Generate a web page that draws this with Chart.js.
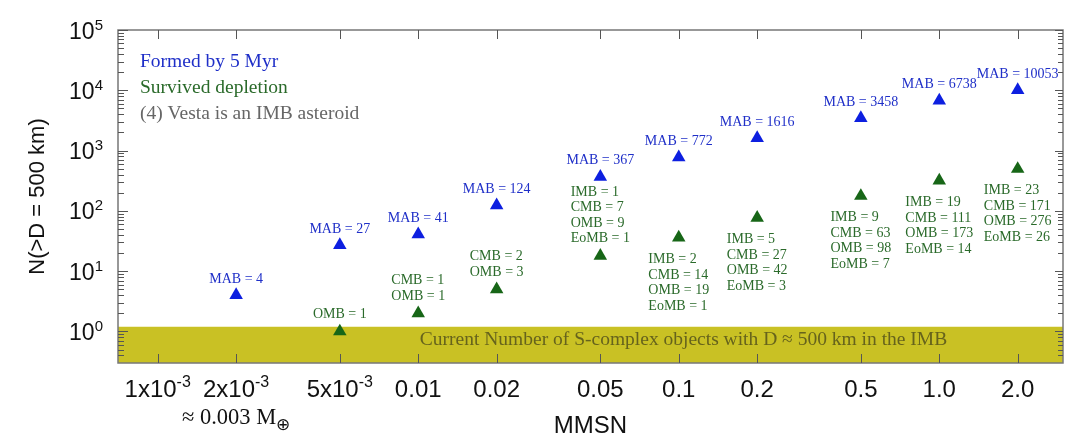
<!DOCTYPE html>
<html><head><meta charset="utf-8">
<script src="https://cdn.jsdelivr.net/npm/chart.js@4.4.1/dist/chart.umd.min.js"></script>
<style>html,body{margin:0;padding:0;background:#fff}#wrap{width:1090px;height:444px}</style>
</head><body><div id="wrap"><canvas id="c" width="1090" height="444"></canvas></div>
<script>
// ---- data ----
const mmsn = [0.002, 0.005, 0.01, 0.02, 0.05, 0.1, 0.2, 0.5, 1.0, 2.0];
const formedMAB = [4, 27, 41, 124, 367, 772, 1616, 3458, 6738, 10053];
const survivedTotal = [null, 1, 2, 5, 18, 36, 77, 177, 317, 496];
const survivedIMB = [null, null, null, null, 1, 2, 5, 9, 19, 23];
const survivedCMB = [null, null, 1, 2, 7, 14, 27, 63, 111, 171];
const survivedOMB = [null, 1, 1, 3, 9, 19, 42, 98, 173, 276];
const survivedEoMB = [null, null, null, null, 1, 1, 3, 7, 14, 26];
const currentIMB = 1.2;
const xTickValues = [0.001, 0.002, 0.005, 0.01, 0.02, 0.05, 0.1, 0.2, 0.5, 1.0, 2.0];
const xTickLabels = ['1x10^-3', '2x10^-3', '5x10^-3', '0.01', '0.02', '0.05', '0.1', '0.2', '0.5', '1.0', '2.0'];
const yTickValues = [1, 10, 100, 1000, 10000, 100000];
const yTickLabels = ['10^0', '10^1', '10^2', '10^3', '10^4', '10^5'];
const xRange = [7.04e-4, 2.985];
const yRange = [0.306, 1e5];

const SANS = '"Liberation Sans", Arial, sans-serif';
const SERIF = '"Liberation Serif", "Times New Roman", serif';
const BLUE = '#0d1fe0', BLUE_TXT = '#1f2fc8';
const GREEN = '#176617', GREEN_TXT = '#2a6a2a';

function drawSup(ctx, label, x, y, baseFont, supFont, align, raise) {
  const parts = label.split('^');
  const base = parts[0], sup = parts[1];
  ctx.font = baseFont; const bw = ctx.measureText(base).width;
  let sw = 0;
  if (sup) { ctx.font = supFont; sw = ctx.measureText(sup).width; }
  const total = bw + sw;
  const x0 = align === 'center' ? x - total / 2 : align === 'right' ? x - total : x;
  ctx.textAlign = 'left'; ctx.textBaseline = 'alphabetic';
  ctx.font = baseFont; ctx.fillText(base, x0, y);
  if (sup) { ctx.font = supFont; ctx.fillText(sup, x0 + bw, y - raise); }
}

const decor = {
  id: 'decor',
  beforeDatasetDraw(chart, args) {
    // band caption drawn just after the band (dataset 2) so markers stay on top
    if (args.index !== 1) return;
    const ctx = chart.ctx, a = chart.chartArea, ys = chart.scales.y;
    ctx.save();
    ctx.fillStyle = '#66631c';
    ctx.font = '19.5px ' + SERIF;
    ctx.textAlign = 'center'; ctx.textBaseline = 'alphabetic';
    ctx.fillText('Current Number of S-complex objects with D \u2248 500 km in the IMB', a.left + 565.5, ys.getPixelForValue(1) + 14);
    ctx.restore();
  },
  afterDatasetsDraw(chart) {
    const ctx = chart.ctx, a = chart.chartArea;
    const xs = chart.scales.x, ys = chart.scales.y;
    ctx.save();
    // frame
    ctx.strokeStyle = '#777'; ctx.lineWidth = 1.5;
    ctx.strokeRect(a.left, a.top, a.right - a.left, a.bottom - a.top);
    // ticks
    ctx.strokeStyle = '#555'; ctx.lineWidth = 1;
    ctx.beginPath();
    xTickValues.forEach(v => {
      const px = Math.round(xs.getPixelForValue(v)) + 0.5;
      ctx.moveTo(px, a.bottom); ctx.lineTo(px, a.bottom - 9);
      ctx.moveTo(px, a.top); ctx.lineTo(px, a.top + 9);
    });
    for (let e = -1; e <= 5; e++) {
      for (let m = 1; m <= 9; m++) {
        const v = m * Math.pow(10, e);
        if (v < yRange[0] || v > yRange[1]) continue;
        const py = Math.round(ys.getPixelForValue(v)) + 0.5;
        ctx.moveTo(a.left, py); ctx.lineTo(a.left + (m === 1 ? 10 : 6), py);
        ctx.moveTo(a.right, py); ctx.lineTo(a.right - (m === 1 ? 8 : 5), py);
      }
    }
    ctx.stroke();

    // tick labels
    ctx.fillStyle = '#111';
    yTickValues.forEach((v, i) => {
      const py = ys.getPixelForValue(v);
      drawSup(ctx, yTickLabels[i], 103, py + 8.5, '23px ' + SANS, '15px ' + SANS, 'right', 9);
    });
    xTickValues.forEach((v, i) => {
      const px = xs.getPixelForValue(v);
      drawSup(ctx, xTickLabels[i], px, 396.5, '24px ' + SANS, '16px ' + SANS, 'center', 10);
    });
    // secondary label under 2x10^-3
    {
      const px = xs.getPixelForValue(0.002);
      ctx.font = '22.5px ' + SERIF;
      const t1 = '\u2248 0.003 M';
      const w1 = ctx.measureText(t1).width;
      ctx.font = '17px ' + SERIF;
      const w2 = ctx.measureText('\u2295').width;
      const x0 = px - (w1 + w2) / 2;
      ctx.textAlign = 'left'; ctx.textBaseline = 'alphabetic';
      ctx.font = '22.5px ' + SERIF; ctx.fillText(t1, x0, 423.5);
      ctx.font = '17px ' + SERIF; ctx.fillText('\u2295', x0 + w1, 430);
    }
    // axis titles
    ctx.font = '24px ' + SANS; ctx.textAlign = 'center'; ctx.textBaseline = 'alphabetic';
    ctx.fillText('MMSN', (a.left + a.right) / 2, 433);
    ctx.save();
    ctx.translate(37.5, (a.top + a.bottom) / 2);
    ctx.rotate(-Math.PI / 2);
    ctx.font = '22px ' + SANS; ctx.textBaseline = 'middle';
    ctx.fillText('N(>D = 500 km)', 0, 0);
    ctx.restore();

    // legend-like notes
    ctx.textAlign = 'left'; ctx.textBaseline = 'alphabetic';
    ctx.font = '19.5px ' + SERIF;
    ctx.fillStyle = BLUE_TXT; ctx.fillText('Formed by 5 Myr', 140, 66.5);
    ctx.fillStyle = GREEN_TXT; ctx.fillText('Survived depletion', 140, 92.5);
    ctx.fillStyle = '#666'; ctx.fillText('(4) Vesta is an IMB asteroid', 140, 118.5);

    // point labels
    ctx.font = '14px ' + SERIF;
    const mBlue = chart.getDatasetMeta(0), mGreen = chart.getDatasetMeta(1);
    ctx.fillStyle = BLUE_TXT; ctx.textAlign = 'center';
    formedMAB.forEach((v, i) => {
      const el = mBlue.data[i];
      ctx.fillText('MAB = ' + v, el.x, el.y - 12.5);
    });
    ctx.fillStyle = GREEN_TXT;
    const lh = 15.5;
    survivedTotal.forEach((v, i) => {
      if (v == null) return;
      const el = mGreen.data[i];
      const lines = [];
      if (survivedIMB[i] != null) lines.push('IMB = ' + survivedIMB[i]);
      if (survivedCMB[i] != null) lines.push('CMB = ' + survivedCMB[i]);
      if (survivedOMB[i] != null) lines.push('OMB = ' + survivedOMB[i]);
      if (survivedEoMB[i] != null) lines.push('EoMB = ' + survivedEoMB[i]);
      let maxW = 0;
      lines.forEach(l => { maxW = Math.max(maxW, ctx.measureText(l).width); });
      const left = el.x - maxW / 2;
      ctx.textAlign = 'left';
      const above = mmsn[i] <= 0.05;
      lines.forEach((l, k) => {
        let cy;
        if (above) cy = el.y - 18 - (lines.length - 1 - k) * lh;
        else cy = el.y + 21 + k * lh;
        ctx.fillText(l, left, cy + 4.5);
      });
    });
    ctx.restore();
  }
};

new Chart(document.getElementById('c'), {
  type: 'scatter',
  data: {
    datasets: [
      {
        label: 'Formed by 5 Myr',
        data: mmsn.map((x, i) => ({ x: x, y: formedMAB[i] })),
        pointStyle: 'triangle', pointRadius: 7.8, pointHoverRadius: 7.8,
        backgroundColor: BLUE, borderColor: BLUE, borderWidth: 0
      },
      {
        label: 'Survived depletion',
        data: mmsn.map((x, i) => ({ x: x, y: survivedTotal[i] })),
        pointStyle: 'triangle', pointRadius: 7.8, pointHoverRadius: 7.8,
        backgroundColor: GREEN, borderColor: GREEN, borderWidth: 0
      },
      {
        type: 'line',
        label: 'Current IMB',
        data: [{ x: xRange[0], y: currentIMB }, { x: xRange[1], y: currentIMB }],
        fill: 'start', backgroundColor: '#c9c124', borderWidth: 0, pointRadius: 0, borderColor: 'rgba(0,0,0,0)'
      }
    ]
  },
  options: {
    responsive: false, animation: false, devicePixelRatio: 1,
    layout: { padding: { left: 118, right: 27, top: 30, bottom: 81 } },
    plugins: { legend: { display: false }, tooltip: { enabled: false } },
    scales: {
      x: { type: 'logarithmic', min: xRange[0], max: xRange[1], display: false },
      y: { type: 'logarithmic', min: yRange[0], max: yRange[1], display: false }
    }
  },
  plugins: [decor]
});
</script>
</body></html>
